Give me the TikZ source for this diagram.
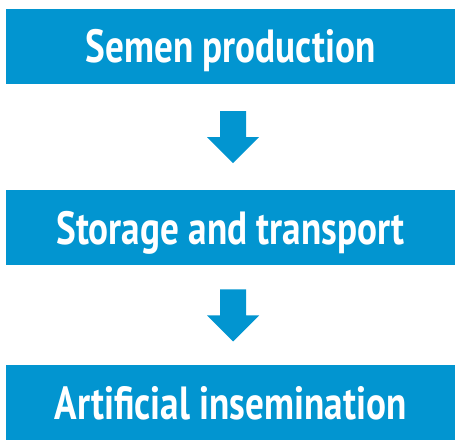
\documentclass[tikz,border=0pt]{standalone}
\usepackage{fontspec}
\setmainfont{PT Sans}[FakeStretch=0.8]
\usetikzlibrary{calc}
\definecolor{boxblue}{HTML}{0295D0}
\tikzset{
  stagebox/.style={fill=boxblue, draw=none, minimum width=449pt, text height=54pt, text depth=21pt, inner sep=0pt, text=white, font=\fontsize{46.5}{50}\selectfont\bfseries},
  downarrow/.style={fill=boxblue, draw=none}
}
\begin{document}
\begin{tikzpicture}[x=1pt,y=1pt]
\useasboundingbox (0,0) rectangle (455,439);
\node[stagebox] (a) at (230.5,392.5) {Semen production};
\node[stagebox] (b) at (230.5,211) {Storage and transport};
\node[stagebox] (c) at (230.5,36) {Artificial insemination};
\coordinate (ab) at ($(a.south)!0.5!(b.north)$);
\coordinate (bc) at ($(b.south)!0.5!(c.north)$);
\foreach \m in {ab,bc}{
  \fill[downarrow] ($(\m)+(-10.5,26)$) -- ($(\m)+(15.5,26)$) -- ($(\m)+(15.5,0)$) -- ($(\m)+(28.5,0)$)
     -- ($(\m)+(2.5,-26)$) -- ($(\m)+(-23.5,0)$) -- ($(\m)+(-10.5,0)$) -- cycle;
}
\end{tikzpicture}
\end{document}
